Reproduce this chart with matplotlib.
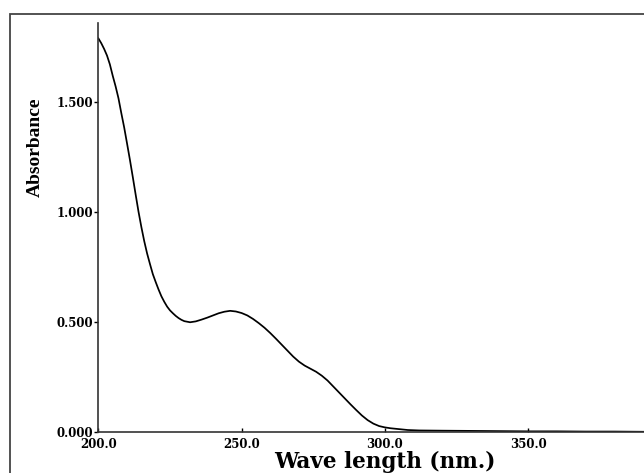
import matplotlib.pyplot as plt
from matplotlib.patches import Rectangle

# UV spectrum
wavelength = [200, 201, 202, 203, 204, 205, 206, 207, 208, 209, 210, 211, 212, 213, 214,
              215, 216, 217, 218, 219, 220, 221, 222, 223, 224, 225, 226, 227, 228, 229,
              230, 232, 234, 236, 238, 240, 242, 244, 246, 248, 250, 252, 254, 256, 258,
              260, 262, 264, 266, 268, 270, 272, 274, 276, 278, 280, 282, 284, 286, 288,
              290, 292, 294, 296, 298, 300, 302, 305, 308, 312, 320, 330, 340, 350, 360,
              370, 380, 390, 400, 410]
absorbance = [1.790, 1.768, 1.742, 1.712, 1.672, 1.620, 1.572, 1.518, 1.450, 1.385, 1.312,
              1.238, 1.160, 1.080, 1.002, 0.932, 0.868, 0.812, 0.764, 0.718, 0.682, 0.648,
              0.617, 0.592, 0.570, 0.553, 0.540, 0.528, 0.518, 0.510, 0.504, 0.499, 0.503,
              0.511, 0.520, 0.530, 0.540, 0.547, 0.551, 0.548, 0.541, 0.530, 0.514, 0.495,
              0.474, 0.450, 0.424, 0.397, 0.370, 0.343, 0.320, 0.302, 0.288, 0.274, 0.256,
              0.234, 0.207, 0.180, 0.153, 0.126, 0.100, 0.075, 0.054, 0.038, 0.027, 0.021,
              0.017, 0.013, 0.009, 0.007, 0.006, 0.005, 0.004, 0.003, 0.003, 0.002, 0.002,
              0.001, 0.001, 0.001]

x_ticks = [200, 250, 300, 350, 400]
x_tick_labels = ["200.0", "250.0", "300.0", "350.0", "400.0"]
y_ticks = [0.0, 0.5, 1.0, 1.5]
y_tick_labels = ["0.000", "0.500", "1.000", "1.500"]

fig = plt.figure(figsize=(6.44, 4.73), dpi=100)
# scanned page frame, cut at the right and bottom edges
fig.patches.append(Rectangle((10 / 644, -0.1), 1.2, 1.1 - 14 / 473,
                             transform=fig.transFigure, fill=False,
                             edgecolor="#444444", linewidth=1.3))

ax = fig.add_axes([0.1528, 0.0867, 0.934, 0.8647])
ax.plot(wavelength, absorbance, color="black", linewidth=1.25)
ax.set_xlim(200, 410)
ax.set_ylim(0, 1.86)

for side in ["top", "right"]:
    ax.spines[side].set_visible(False)
for side in ["left", "bottom"]:
    ax.spines[side].set_color("#333333")
    ax.spines[side].set_linewidth(1.2)

tick_font = {"family": "DejaVu Serif", "weight": "bold", "size": 8.5}
ax.set_xticks(x_ticks)
ax.set_xticklabels(x_tick_labels, fontdict=tick_font)
ax.set_yticks(y_ticks)
ax.set_yticklabels(y_tick_labels, fontdict=tick_font)
ax.tick_params(axis="y", direction="out", length=3, width=1, pad=0.5)
ax.tick_params(axis="x", direction="in", length=3, width=1, pad=4)

ax.set_xlabel("Wave length (nm.)", family="DejaVu Serif", weight="bold", size=15.5)
ax.xaxis.set_label_coords(0.476, -0.047)
ax.set_ylabel("Absorbance", family="Liberation Serif", weight="bold", size=14)
ax.yaxis.set_label_coords(-0.09, 0.695)

fig.savefig("out.png", dpi=100)
